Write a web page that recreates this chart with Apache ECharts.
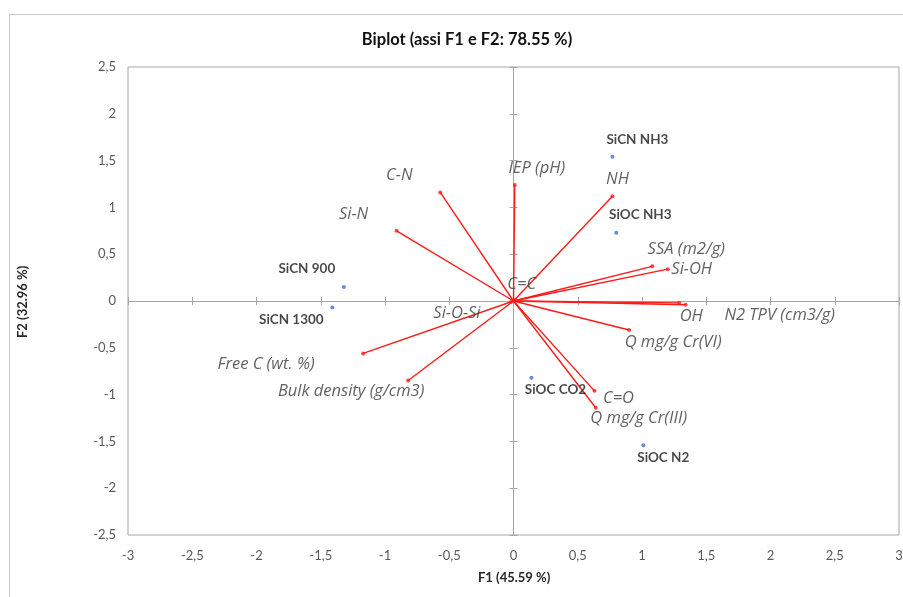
<!DOCTYPE html>
<html>
<head>
<meta charset="utf-8">
<script src="https://cdn.jsdelivr.net/npm/echarts@6/dist/echarts.min.js"></script>
<style>
html,body{margin:0;padding:0;background:#fff;overflow:hidden;}
#chart{width:100vw;height:100vh;}
</style>
</head>
<body>
<div id="chart"></div>
<script>
// ---- data ----
const obsNames = ['SiCN NH3', 'SiOC NH3', 'SiCN 900', 'SiCN 1300', 'SiOC CO2', 'SiOC N2'];
const obsF1 = [0.77, 0.80, -1.32, -1.41, 0.14, 1.01];
const obsF2 = [1.54, 0.73, 0.15, -0.07, -0.82, -1.54];

const varNames = ['IEP (pH)', 'NH', 'SSA (m2/g)', 'Si-OH', 'OH', 'N2 TPV (cm3/g)', 'Q mg/g Cr(VI)', 'C=O', 'Q mg/g Cr(III)', 'Bulk density (g/cm3)', 'Free C (wt. %)', 'Si-N', 'C-N', 'C=C', 'Si-O-Si'];
const varF1 = [0.01, 0.77, 1.08, 1.20, 1.29, 1.34, 0.90, 0.63, 0.64, -0.82, -1.17, -0.91, -0.57, 0.01, -0.02];
const varF2 = [1.24, 1.12, 0.37, 0.34, -0.02, -0.04, -0.31, -0.96, -1.14, -0.85, -0.56, 0.75, 1.16, 0.01, -0.01];

const xTicks = [-3, -2.5, -2, -1.5, -1, -0.5, 0, 0.5, 1, 1.5, 2, 2.5, 3];
const yTicks = [-2.5, -2, -1.5, -1, -0.5, 0, 0.5, 1, 1.5, 2, 2.5];

// ---- label layout (pixel offsets of label centre from its point) ----
const obsLabelOffsets = [[25, -17], [24, -18], [-37, -18], [-41, 12], [24, 12], [20, 12]];
const varLabelOffsets = [[22, -17], [5, -17], [34, -17], [24, 0], [12, 13], [94, 11], [44, 12], [24, 7], [43, 11], [-57, 11], [-97, 11], [-43, -17], [-41, -17], [7, -16], [-54, 11]];

const fmt = v => String(v).replace('.', ',');

const chart = echarts.init(document.getElementById('chart'), null, {renderer: 'canvas'});

const tickFont = {fontFamily: 'Lato', fontSize: 13, color: '#595959'};

function xAxisDef(extra) {
  return Object.assign({
    type: 'value', min: xTicks[0], max: xTicks[xTicks.length - 1], interval: 0.5,
    splitLine: {show: false}
  }, extra);
}
function yAxisDef(extra) {
  return Object.assign({
    type: 'value', min: yTicks[0], max: yTicks[yTicks.length - 1], interval: 0.5,
    splitLine: {show: false}
  }, extra);
}

const option = {
  backgroundColor: '#fff',
  animation: false,
  title: {
    text: 'Biplot (assi F1 e F2: 78.55 %)',
    left: 462, top: 26, textAlign: 'center',
    textStyle: {fontFamily: 'Lato', fontWeight: 'bold', fontSize: 16.5, color: '#111'}
  },
  graphic: [
    {type: 'rect', shape: {x: 9.5, y: 14.5, width: 1000, height: 1000}, style: {fill: 'none', stroke: '#c8c8c8', lineWidth: 1}, silent: true, z: -10},
    {type: 'text', left: 478, top: 571, style: {text: 'F1 (45.59 %)', fontFamily: 'Lato', fontWeight: 'bold', fontSize: 13, fill: '#262626'}},
    {type: 'text', x: 16, y: 338, rotation: Math.PI / 2, style: {text: 'F2 (32.96 %)', fontFamily: 'Lato', fontWeight: 'bold', fontSize: 13, fill: '#262626'}}
  ],
  grid: {left: 128, right: 4, top: 67, bottom: 62, outerBoundsMode: 'none', containLabel: false,
    show: true, borderColor: '#a6a6a6', borderWidth: 1, backgroundColor: 'transparent'},
  xAxis: [
    xAxisDef({position: 'bottom', axisLine: {show: false, onZero: false}, axisTick: {show: false},
      axisLabel: Object.assign({margin: 14, formatter: fmt}, tickFont)}),
    xAxisDef({position: 'bottom', axisLine: {show: true, onZero: true, lineStyle: {color: '#a6a6a6', width: 1}},
      axisTick: {show: true, inside: false, length: 4, lineStyle: {color: '#a6a6a6'}}, axisLabel: {show: false}}),
    xAxisDef({position: 'bottom', axisLine: {show: false, onZero: true},
      axisTick: {show: true, inside: true, length: 4, lineStyle: {color: '#a6a6a6'}}, axisLabel: {show: false}})
  ],
  yAxis: [
    yAxisDef({position: 'left', axisLine: {show: false, onZero: false}, axisTick: {show: false},
      axisLabel: Object.assign({margin: 12, formatter: fmt}, tickFont)}),
    yAxisDef({position: 'left', axisLine: {show: true, onZero: true, lineStyle: {color: '#a6a6a6', width: 1}},
      axisTick: {show: true, inside: false, length: 4, lineStyle: {color: '#a6a6a6'}}, axisLabel: {show: false}}),
    yAxisDef({position: 'left', axisLine: {show: false, onZero: true},
      axisTick: {show: true, inside: true, length: 4, lineStyle: {color: '#a6a6a6'}}, axisLabel: {show: false}})
  ],
  series: [
    {
      type: 'lines', coordinateSystem: 'cartesian2d', xAxisIndex: 0, yAxisIndex: 0,
      lineStyle: {color: '#ff1a1a', width: 1.4, opacity: 1},
      data: varNames.map((n, i) => ({coords: [[0, 0], [varF1[i], varF2[i]]]})),
      z: 3
    },
    {
      type: 'scatter', xAxisIndex: 0, yAxisIndex: 0, symbol: 'circle', symbolSize: 4,
      itemStyle: {color: '#ff1a1a'},
      data: varNames.map((n, i) => ({
        value: [varF1[i], varF2[i]], name: n,
        label: {offset: varLabelOffsets[i]}
      })),
      label: {show: true, position: 'inside', formatter: p => p.name,
        fontFamily: 'Open Sans', fontStyle: 'italic', fontSize: 16.5, color: '#3a3a3a'},
      z: 4
    },
    {
      type: 'scatter', xAxisIndex: 0, yAxisIndex: 0, symbol: 'circle', symbolSize: 4,
      itemStyle: {color: '#3d6fe0'},
      data: obsNames.map((n, i) => ({
        value: [obsF1[i], obsF2[i]], name: n,
        label: {offset: obsLabelOffsets[i]}
      })),
      label: {show: true, position: 'inside', formatter: p => p.name,
        fontFamily: 'Lato', fontWeight: 'bold', fontSize: 13.5, color: '#1a1a1a'},
      z: 5
    }
  ]
};
chart.setOption(option);
</script>
</body>
</html>
